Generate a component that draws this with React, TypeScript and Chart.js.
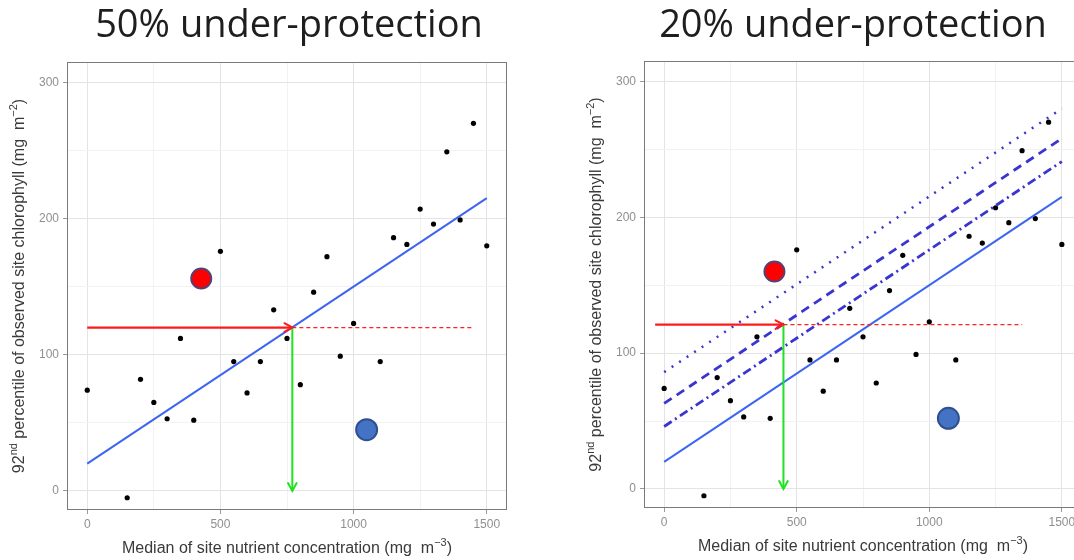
import React, { useEffect, useRef } from 'react';
import { Chart, registerables } from 'chart.js';

Chart.register(...registerables);

// ---------- data ----------
const nutrient = [0, 150, 200, 250, 300, 350, 400, 500, 550, 600, 650, 700, 750, 800, 850, 900, 950, 1000, 1100, 1150, 1200, 1250, 1300, 1350, 1400, 1450, 1500];
const chlorophyll = [74, -5, 82, 65, 53, 112, 52, 176, 95, 72, 95, 133, 112, 78, 146, 172, 99, 123, 95, 186, 181, 207, 196, 249, 199, 270, 180];

const lineX = [0, 1500];
const fitY = [20, 215];
const dottedY = [86, 280];
const dashedY = [63, 258];
const dotDashY = [46, 241];

const leftSiteX = [428, 1049];
const leftSiteY = [156, 45];
const rightSiteX = [416, 1072];
const rightSiteY = [160, 52];

// criterion arrows: [start x, threshold x, guide end x], criterion y
const leftArrowX = [0, 770, 1450];
const leftCriterion = 120;
const rightArrowX = [-34, 450, 1350];
const rightCriterion = 121;

const xTicks = [0, 250, 500, 750, 1000, 1250, 1500];
const yTicks = [0, 50, 100, 150, 200, 250, 300];
const titles = ['50% under-protection', '20% under-protection'];

const yTitle = [
  { t: '92', sup: false },
  { t: 'nd', sup: true },
  { t: ' percentile of observed site chlorophyll (mg  m', sup: false },
  { t: '\u22122', sup: true },
  { t: ')', sup: false },
];
const xTitle = [
  { t: 'Median of site nutrient concentration (mg  m', sup: false },
  { t: '\u22123', sup: true },
  { t: ')', sup: false },
];

// ---------- helpers ----------
const FONT = '"Liberation Sans", Arial, sans-serif';
const TICK_COLOR = '#8f8f8f';
const TITLE_COLOR = '#3a3a3a';

function pts(xs: number[], ys: number[]) {
  return xs.map((x, i) => ({ x, y: ys[i] }));
}

function drawRich(ctx: CanvasRenderingContext2D, segs: { t: string; sup: boolean }[], cx: number, cy: number, rotate: boolean) {
  const base = `16px ${FONT}`;
  const sup = `11px ${FONT}`;
  const widths = segs.map((s) => {
    ctx.font = s.sup ? sup : base;
    return ctx.measureText(s.t).width;
  });
  const total = widths.reduce((a, b) => a + b, 0);
  ctx.save();
  ctx.translate(cx, cy);
  if (rotate) ctx.rotate(-Math.PI / 2);
  ctx.fillStyle = TITLE_COLOR;
  ctx.textBaseline = 'middle';
  ctx.textAlign = 'left';
  let x = -total / 2;
  segs.forEach((s, i) => {
    ctx.font = s.sup ? sup : base;
    ctx.fillText(s.t, x, s.sup ? -6 : 0);
    x += widths[i];
  });
  ctx.restore();
}

const decorPlugin = {
  id: 'decor',
  afterDatasetsDraw(chart: any) {
    const ctx = chart.ctx;
    chart.data.datasets.forEach((ds: any, i: number) => {
      if (!ds.arrow) return;
      const meta = chart.getDatasetMeta(i);
      const n = meta.data.length;
      const a = meta.data[n - 2];
      const b = meta.data[n - 1];
      const ang = Math.atan2(b.y - a.y, b.x - a.x);
      const len = 9;
      ctx.save();
      ctx.strokeStyle = ds.borderColor;
      ctx.lineWidth = 2;
      ctx.lineCap = 'round';
      ctx.beginPath();
      ctx.moveTo(b.x - len * Math.cos(ang - 0.5), b.y - len * Math.sin(ang - 0.5));
      ctx.lineTo(b.x, b.y);
      ctx.lineTo(b.x - len * Math.cos(ang + 0.5), b.y - len * Math.sin(ang + 0.5));
      ctx.stroke();
      ctx.restore();
    });
  },
  afterDraw(chart: any) {
    const ctx = chart.ctx;
    const { left, right, top, bottom } = chart.chartArea;
    ctx.save();
    ctx.strokeStyle = '#7a7a7a';
    ctx.lineWidth = 1;
    ctx.strokeRect(left + 0.5, top + 0.5, right - left - 1, bottom - top - 1);
    ctx.restore();
    drawRich(ctx, xTitle, (left + right) / 2, bottom + 39, false);
    drawRich(ctx, yTitle, left - 47, (top + bottom) / 2, true);
  },
};

function buildConfig(right: boolean): any {
  const siteX = right ? rightSiteX : leftSiteX;
  const siteY = right ? rightSiteY : leftSiteY;
  const arrowX = right ? rightArrowX : leftArrowX;
  const crit = right ? rightCriterion : leftCriterion;

  const lineDs = (ys: number[], color: string, width: number, dash: number[], order: number) => ({
    data: pts(lineX, ys),
    showLine: true,
    borderColor: color,
    borderWidth: width,
    borderDash: dash,
    pointRadius: 0,
    fill: false,
    order,
  });

  const datasets: any[] = [
    {
      data: pts(nutrient, chlorophyll),
      backgroundColor: '#000000',
      borderColor: '#000000',
      pointRadius: 2.6,
      pointBorderWidth: 0,
      order: 10,
    },
    lineDs(fitY, '#3d66f0', 2, [], 9),
  ];
  if (right) {
    datasets.push(lineDs(dottedY, '#3a35d0', 2.5, [2, 7], 8));
    datasets.push(lineDs(dashedY, '#3a35d0', 2.8, [9, 6], 8));
    datasets.push(lineDs(dotDashY, '#3a35d0', 2.8, [9, 4, 2, 4], 8));
  }
  datasets.push({
    data: pts([arrowX[1], arrowX[2]], [crit, crit]),
    showLine: true,
    borderColor: '#ff2020',
    borderWidth: 1.3,
    borderDash: [4, 3],
    pointRadius: 0,
    order: 5,
  });
  datasets.push({
    data: pts([arrowX[0], arrowX[1]], [crit, crit]),
    showLine: true,
    borderColor: '#ff1a1a',
    borderWidth: 2.2,
    pointRadius: 0,
    arrow: true,
    order: 4,
  });
  datasets.push({
    data: pts([arrowX[1], arrowX[1]], [crit, 0]),
    showLine: true,
    borderColor: '#22e022',
    borderWidth: 2,
    pointRadius: 0,
    arrow: true,
    order: 3,
  });
  datasets.push({
    data: [{ x: siteX[0], y: siteY[0] }],
    backgroundColor: '#ff0000',
    borderColor: '#5b3f73',
    pointRadius: 10,
    pointBorderWidth: 2,
    order: 1,
  });
  datasets.push({
    data: [{ x: siteX[1], y: siteY[1] }],
    backgroundColor: '#4472c4',
    borderColor: '#2f4f8f',
    pointRadius: 10.5,
    pointBorderWidth: 2,
    order: 1,
  });

  const gridColor = (c: any) => (c.tick && c.tick.value % 100 === 0 ? '#e4e4e4' : '#f2f2f2');
  const xGridColor = (c: any) => (c.tick && c.tick.value % 500 === 0 ? '#e4e4e4' : '#f2f2f2');

  return {
    type: 'scatter',
    data: { datasets },
    plugins: [decorPlugin],
    options: {
      responsive: false,
      animation: false,
      devicePixelRatio: 1,
      layout: { padding: { top: right ? 61 : 62, right: 30, bottom: 0, left: 0 } },
      plugins: { legend: { display: false }, tooltip: { enabled: false } },
      scales: {
        x: {
          type: 'linear',
          min: -76,
          max: 1576,
          afterBuildTicks: (s: any) => {
            s.ticks = xTicks.map((v) => ({ value: v }));
          },
          afterFit: (s: any) => {
            s.height = right ? 52 : 50;
          },
          ticks: {
            autoSkip: false,
            maxRotation: 0,
            padding: 3,
            color: TICK_COLOR,
            font: { family: FONT, size: 12 },
            callback: (v: number) => (v % 500 === 0 ? String(v) : ''),
          },
          grid: {
            color: xGridColor,
            tickColor: (c: any) => (c.tick && c.tick.value % 500 === 0 ? '#9a9a9a' : 'rgba(0,0,0,0)'),
            tickLength: 4,
          },
          border: { display: false },
        },
        y: {
          type: 'linear',
          min: -14,
          max: 315,
          afterBuildTicks: (s: any) => {
            s.ticks = yTicks.map((v) => ({ value: v }));
          },
          afterFit: (s: any) => {
            s.width = 67;
          },
          ticks: {
            autoSkip: false,
            padding: 4,
            color: TICK_COLOR,
            font: { family: FONT, size: 12 },
            callback: (v: number) => (v % 100 === 0 ? String(v) : ''),
          },
          grid: {
            color: gridColor,
            tickColor: (c: any) => (c.tick && c.tick.value % 100 === 0 ? '#9a9a9a' : 'rgba(0,0,0,0)'),
            tickLength: 4,
          },
          border: { display: false },
        },
      },
    },
  };
}

function Panel({ right, left, width }: { right: boolean; left: number; width: number }) {
  const ref = useRef<HTMLCanvasElement | null>(null);
  useEffect(() => {
    if (!ref.current) return;
    const chart = new Chart(ref.current, buildConfig(right));
    return () => chart.destroy();
  }, [right]);
  return (
    <canvas
      ref={ref}
      width={width}
      height={560}
      style={{ position: 'absolute', left, top: 0, width, height: 560, display: 'block' }}
    />
  );
}

export default function App() {
  const titleStyle = (cx: number): React.CSSProperties => ({
    position: 'absolute',
    top: 0,
    left: cx - 260,
    width: 520,
    textAlign: 'center',
    fontFamily: '"Open Sans", sans-serif',
    fontSize: 38,
    lineHeight: '44px',
    color: '#1e1e1e',
    whiteSpace: 'nowrap',
  });
  return (
    <div
      style={{
        position: 'fixed',
        left: 0,
        top: 0,
        width: 1074,
        height: 560,
        overflow: 'hidden',
        background: '#ffffff',
      }}
    >
      <Panel right={false} left={0} width={537} />
      <Panel right={true} left={577} width={535} />
      <div style={titleStyle(289)}>{titles[0]}</div>
      <div style={titleStyle(853)}>{titles[1]}</div>
    </div>
  );
}
